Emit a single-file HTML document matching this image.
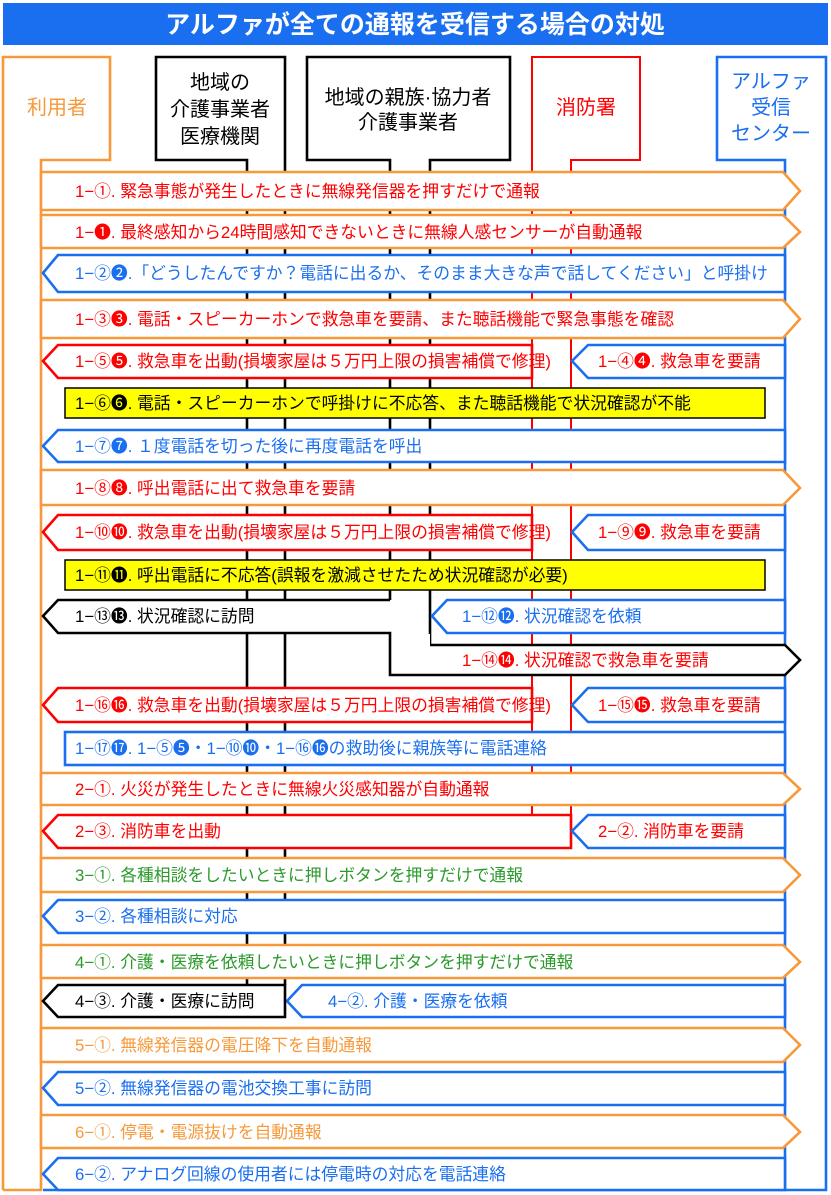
<!DOCTYPE html>
<html><head><meta charset="utf-8"><style>
html,body{margin:0;padding:0;background:#fff;}
svg{display:block;font-family:"Liberation Sans","Noto Sans CJK JP",sans-serif;}
</style></head><body>
<svg width="831" height="1195" viewBox="0 0 831 1195" xmlns="http://www.w3.org/2000/svg">
<rect x="3" y="3" width="825" height="42" fill="#1a6ff0"/>
<text x="415" y="33" font-size="25" font-weight="bold" fill="#fff" text-anchor="middle">アルファが全ての通報を受信する場合の対処</text>

<g fill="none" stroke-width="2.6">
<path d="M3,1190 V57 H110 V160 H41 V1190 H3" stroke="#f7993a"/>
<path d="M247,985 V160 H156 V57 H285 V985" stroke="#000"/>
<path d="M390,600 V160 H307 V57 H510 V160 H430 V645" stroke="#000"/>
<path d="M532,848 V57 H640 V160 H571 V848" stroke="#f00" stroke-width="2"/>
<path d="M785,1190 V160 H717 V57 H826 V1190 H43" stroke="#1a6ff0"/>
</g>

<g stroke-width="2.6" fill="#fff">
<polygon points="41,172 783,172 800,191 783,210 41,210" stroke="#f7993a"/>
<polygon points="41,215 783,215 800,232 783,248 41,248" stroke="#f7993a"/>
<polygon points="41,300 783,300 800,319 783,338 41,338" stroke="#f7993a"/>
<polygon points="41,470 783,470 800,488 783,505 41,505" stroke="#f7993a"/>
<polygon points="41,773 783,773 800,789 783,805 41,805" stroke="#f7993a"/>
<polygon points="41,858 783,858 800,875 783,892 41,892" stroke="#f7993a"/>
<polygon points="41,945 783,945 800,962 783,978 41,978" stroke="#f7993a"/>
<polygon points="41,1028 783,1028 800,1045 783,1062 41,1062" stroke="#f7993a"/>
<polygon points="41,1115 783,1115 800,1132 783,1148 41,1148" stroke="#f7993a"/>
<polygon points="43,273 58,255 785,255 785,292 58,292" stroke="#1a6ff0"/>
<polygon points="43,446 58,430 785,430 785,462 58,462" stroke="#1a6ff0"/>
<polygon points="43,916 58,900 785,900 785,933 58,933" stroke="#1a6ff0"/>
<polygon points="43,1088 58,1072 785,1072 785,1105 58,1105" stroke="#1a6ff0"/>
<polygon points="43,1174 58,1158 785,1158 785,1190 58,1190" stroke="#1a6ff0"/>
<polygon points="43,361 58,345 532,345 532,378 58,378" stroke="#f00"/>
<polygon points="43,532 58,515 532,515 532,550 58,550" stroke="#f00"/>
<polygon points="43,705 58,688 532,688 532,722 58,722" stroke="#f00"/>
<polygon points="43,831 58,815 571,815 571,848 58,848" stroke="#f00"/>
<polygon points="572,361 588,345 785,345 785,378 588,378" stroke="#1a6ff0"/>
<polygon points="572,532 588,515 785,515 785,550 588,550" stroke="#1a6ff0"/>
<polygon points="572,705 588,688 785,688 785,722 588,722" stroke="#1a6ff0"/>
<polygon points="572,831 588,815 785,815 785,848 588,848" stroke="#1a6ff0"/>
<polygon points="432,616 447,600 785,600 785,633 447,633" stroke="#1a6ff0"/>
<polygon points="287,1001 302,985 785,985 785,1017 302,1017" stroke="#1a6ff0"/>
<!-- black 1-13 / 1-14 combined -->
<rect x="391" y="634" width="39" height="40" stroke="none"/>
<path d="M390,600 H58 L43,616 L58,633 H390 V675 H785 L800,660 L785,645 H430" stroke="#000"/>
<polygon points="43,1001 58,985 285,985 285,1017 58,1017" stroke="#000"/>
<rect x="65" y="732" width="720" height="33" stroke="#1a6ff0"/>
<rect x="65" y="388" width="700" height="30" fill="#ffff00" stroke="#000" stroke-width="1.5"/>
<rect x="65" y="560" width="700" height="30" fill="#ffff00" stroke="#000" stroke-width="1.5"/>
</g>

<g text-anchor="middle" font-size="20">
<text x="57" y="114" fill="#f7993a">利用者</text>
<g fill="#000">
<text x="220" y="89">地域の</text>
<text x="220" y="116">介護事業者</text>
<text x="220" y="143">医療機関</text>
<text x="408" y="104">地域の親族·協力者</text>
<text x="408" y="129">介護事業者</text>
</g>
<text x="586" y="114" fill="#f00">消防署</text>
<g fill="#1a6ff0">
<text x="771" y="88">アルファ</text>
<text x="771" y="114">受信</text>
<text x="771" y="140">センター</text>
</g>
</g>

<g font-size="16.8">
<text x="75" y="197" fill="#f00">1−①. 緊急事態が発生したときに無線発信器を押すだけで通報</text>
<text x="75" y="238" fill="#f00">1−❶. 最終感知から24時間感知できないときに無線人感センサーが自動通報</text>
<text x="75" y="279" fill="#1a6ff0">1−②❷.「どうしたんですか？電話に出るか、そのまま大きな声で話してください」と呼掛け</text>
<text x="75" y="325" fill="#f00">1−③❸. 電話・スピーカーホンで救急車を要請、また聴話機能で緊急事態を確認</text>
<text x="75" y="367" fill="#f00">1−⑤❺. 救急車を出動(損壊家屋は５万円上限の損害補償で修理)</text>
<text x="598" y="367" fill="#f00">1−④❹. 救急車を要請</text>
<text x="75" y="409" fill="#000">1−⑥❻. 電話・スピーカーホンで呼掛けに不応答、また聴話機能で状況確認が不能</text>
<text x="75" y="452" fill="#1a6ff0">1−⑦❼. １度電話を切った後に再度電話を呼出</text>
<text x="75" y="494" fill="#f00">1−⑧❽. 呼出電話に出て救急車を要請</text>
<text x="75" y="538" fill="#f00">1−⑩❿. 救急車を出動(損壊家屋は５万円上限の損害補償で修理)</text>
<text x="598" y="538" fill="#f00">1−⑨❾. 救急車を要請</text>
<text x="75" y="581" fill="#000">1−⑪⓫. 呼出電話に不応答(誤報を激減させたため状況確認が必要)</text>
<text x="75" y="622" fill="#000">1−⑬⓭. 状況確認に訪問</text>
<text x="462" y="622" fill="#1a6ff0">1−⑫⓬. 状況確認を依頼</text>
<text x="462" y="666" fill="#f00">1−⑭⓮. 状況確認で救急車を要請</text>
<text x="75" y="711" fill="#f00">1−⑯⓰. 救急車を出動(損壊家屋は５万円上限の損害補償で修理)</text>
<text x="598" y="711" fill="#f00">1−⑮⓯. 救急車を要請</text>
<text x="75" y="754" fill="#1a6ff0">1−⑰⓱. 1−⑤❺・1−⑩❿・1−⑯⓰の救助後に親族等に電話連絡</text>
<text x="75" y="795" fill="#f00">2−①. 火災が発生したときに無線火災感知器が自動通報</text>
<text x="75" y="837" fill="#f00">2−③. 消防車を出動</text>
<text x="598" y="837" fill="#f00">2−②. 消防車を要請</text>
<text x="75" y="881" fill="#2a9a2a">3−①. 各種相談をしたいときに押しボタンを押すだけで通報</text>
<text x="75" y="922" fill="#1a6ff0">3−②. 各種相談に対応</text>
<text x="75" y="968" fill="#2a9a2a">4−①. 介護・医療を依頼したいときに押しボタンを押すだけで通報</text>
<text x="75" y="1007" fill="#000">4−③. 介護・医療に訪問</text>
<text x="328" y="1007" fill="#1a6ff0">4−②. 介護・医療を依頼</text>
<text x="75" y="1051" fill="#f7993a">5−①. 無線発信器の電圧降下を自動通報</text>
<text x="75" y="1094" fill="#1a6ff0">5−②. 無線発信器の電池交換工事に訪問</text>
<text x="75" y="1138" fill="#f7993a">6−①. 停電・電源抜けを自動通報</text>
<text x="75" y="1180" fill="#1a6ff0">6−②. アナログ回線の使用者には停電時の対応を電話連絡</text>
</g>
</svg>
</body></html>
